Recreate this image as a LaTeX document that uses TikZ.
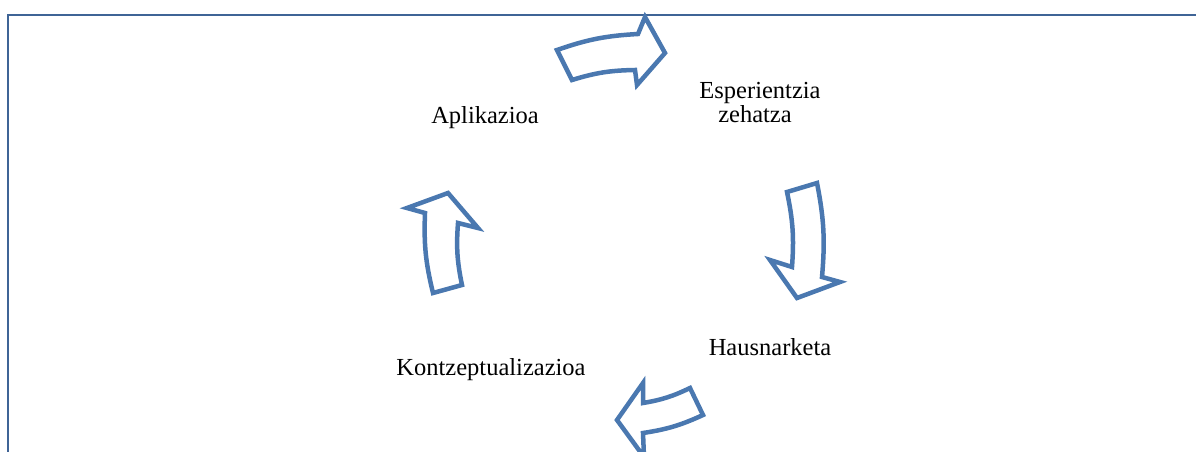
\documentclass[tikz,border=0pt]{standalone}
\usepackage{fontspec}
\setmainfont{Liberation Serif}
\begin{document}
\begin{tikzpicture}[x=1pt,y=-1pt,
  cyclearrow/.style={draw=arrowblue,line width=4.5pt,fill=white,line join=miter},
  label/.style={anchor=base,font=\fontsize{24.5}{24}\selectfont,inner sep=0pt,align=center},
  frameline/.style={draw=frameblue,line width=2pt}]
\definecolor{arrowblue}{HTML}{4A78B0}
\definecolor{frameblue}{HTML}{3F6496}
\useasboundingbox (0,0) rectangle (1196,452);
\clip (0,0) rectangle (1196,452);
% page frame
\coordinate (fc) at (8,15);
\coordinate (fr) at (1200,15);
\coordinate (fb) at (8,456);
\draw[frameline] (fr) -- (fc) -- (fb);
% labels
\node[label] (exp) at (760,98) {Esperientzia};
\node[label] (exp2) at (755,122) {zehatza};
\node[label] (hau) at (770,355) {Hausnarketa};
\node[label] (kon) at (491,375) {Kontzeptualizazioa};
\node[label] (apl) at (485,123) {Aplikazioa};
% curved arrows of the cycle
\draw[cyclearrow] (557,50) to[bend left=8] (638,34) -- (645,17) -- (665,53)
  -- (637,85) -- (635,70) to[bend right=8] (572,80) -- cycle;
\draw[cyclearrow] (817,183) to[bend left=8] (822,277) -- (840,282) -- (797,298)
  -- (770,260) -- (792,267) to[bend right=8] (787,192) -- cycle;
\draw[cyclearrow] (703,415) to[bend left=8] (643,433) -- (644,457) -- (617,420)
  -- (643,383) -- (643,403) to[bend right=8] (690,388) -- cycle;
\draw[cyclearrow] (462,285) to[bend left=8] (458,223) -- (478,228) -- (448,193)
  -- (407,208) -- (425,213) to[bend right=8] (433,293) -- cycle;
\end{tikzpicture}
\end{document}
